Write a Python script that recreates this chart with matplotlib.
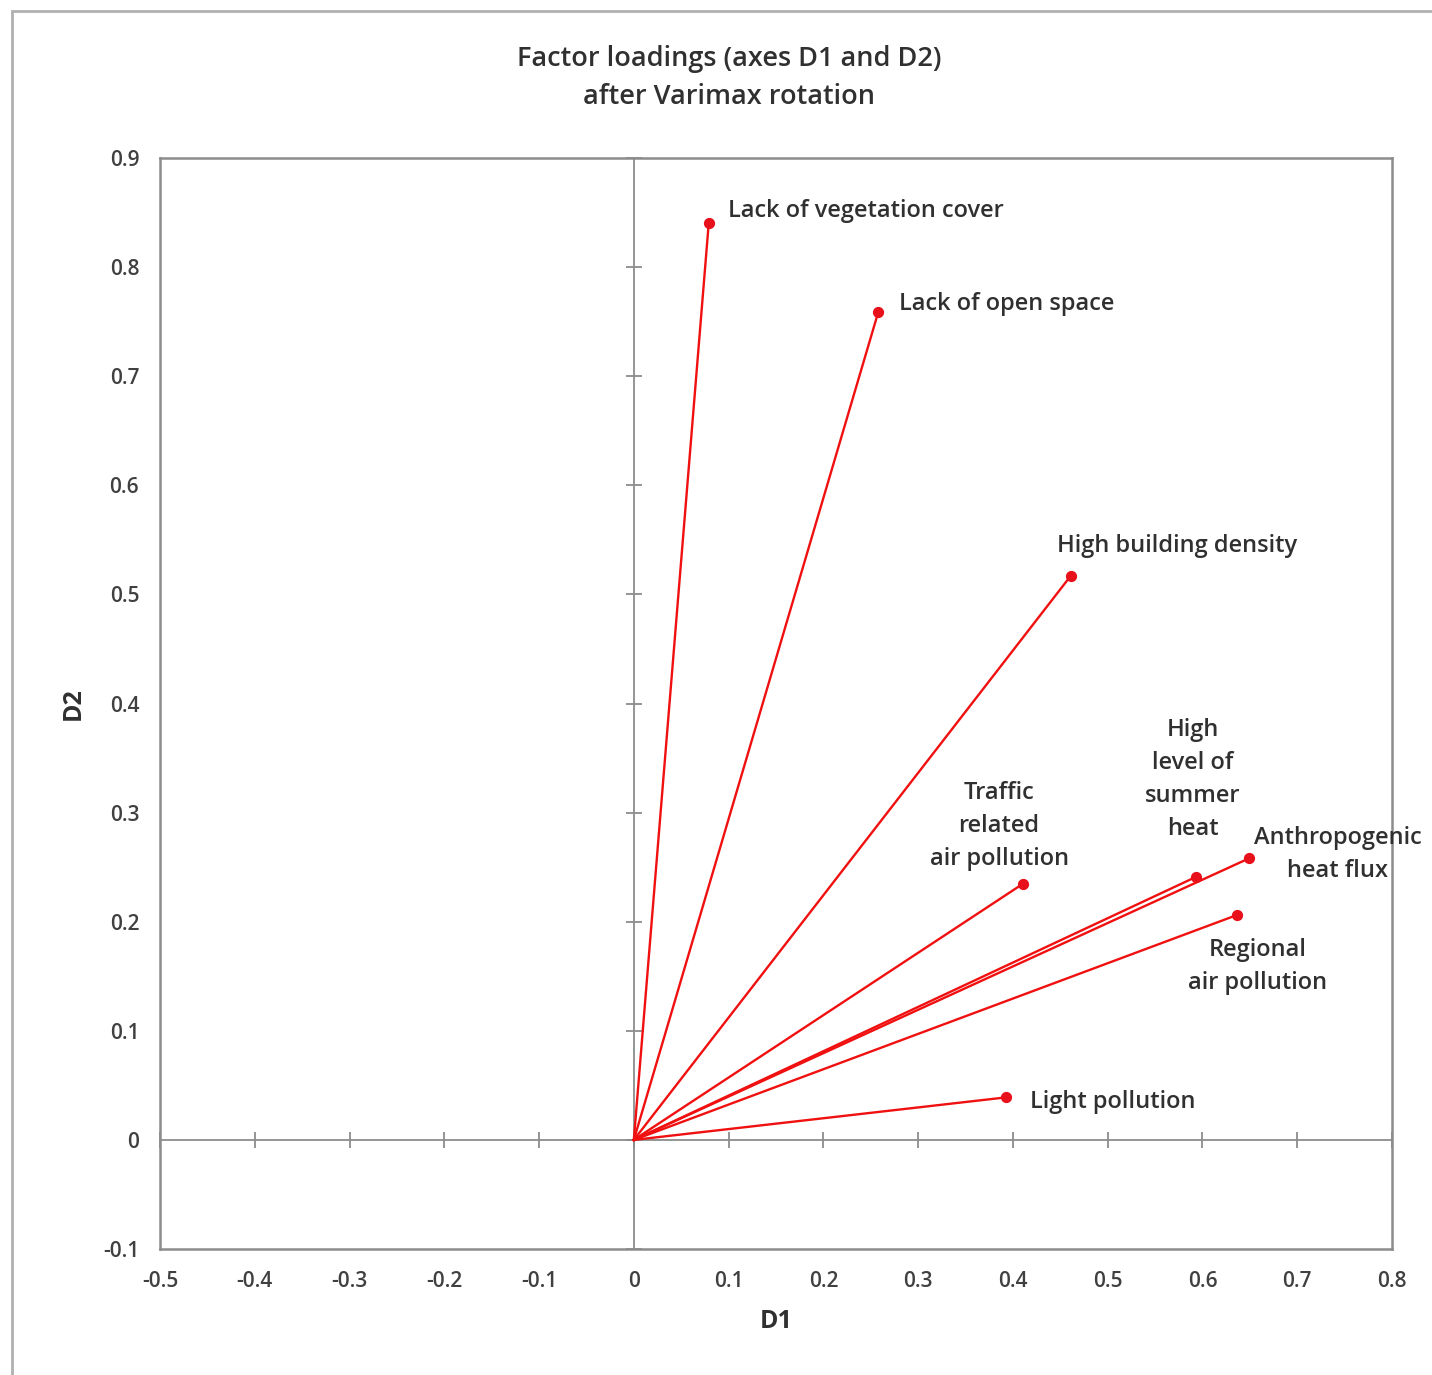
import numpy as np
import matplotlib.pyplot as plt
from matplotlib.patches import Rectangle

plt.rcParams['font.family'] = ['Open Sans', 'DejaVu Sans']

# factor loadings on the first two rotated axes
variables = ['Lack of vegetation cover', 'Lack of open space', 'High building density',
             'Traffic\nrelated\nair pollution', 'High\nlevel of\nsummer\nheat',
             'Anthropogenic\nheat flux', 'Regional\nair pollution', 'Light pollution']
d1 = [0.079, 0.258, 0.461, 0.411, 0.593, 0.649, 0.636, 0.393]
d2 = [0.840, 0.759, 0.517, 0.235, 0.241, 0.258, 0.206, 0.039]

# where each label sits and how it is aligned
label_x = [0.099, 0.280, 0.447, 0.3855, 0.590, 0.743, 0.6586, 0.418]
label_y = [0.851, 0.766, 0.544, 0.288, 0.330, 0.262, 0.159, 0.035]
label_ha = ['left', 'left', 'left', 'center', 'center', 'center', 'center', 'left']

xticks = np.round(np.arange(-0.5, 0.81, 0.1), 1) + 0.0
yticks = np.round(np.arange(-0.1, 0.91, 0.1), 1) + 0.0


def fmt(t):
    return '0' if abs(t) < 1e-9 else '%g' % t


fig = plt.figure(figsize=(14.32, 13.75), dpi=100)
# outer chart border (top and left edges visible)
fig.patches.append(Rectangle((12 / 1432, -0.01), 1.05, 1 - 11 / 1375 + 0.01,
                             transform=fig.transFigure, fill=False,
                             edgecolor='#b0b0b0', lw=2))

ax = fig.add_axes([160 / 1432, 1 - 1249 / 1375, 1232 / 1432, 1091 / 1375])
ax.set_xlim(-0.5, 0.8)
ax.set_ylim(-0.1, 0.9)

for s in ax.spines.values():
    s.set_color('#8c8c8c')
    s.set_linewidth(1.8)

ax.set_xticks(xticks)
ax.set_yticks(yticks)
ax.set_xticklabels([fmt(t) for t in xticks])
ax.set_yticklabels([fmt(t) for t in yticks])
ax.tick_params(length=0, labelsize=15, labelcolor='#404040')
ax.tick_params(axis='x', pad=16)
ax.tick_params(axis='y', pad=15)
for lab in ax.get_xticklabels() + ax.get_yticklabels():
    lab.set_fontweight('semibold')

# zero axes with crossing tick marks
ax.axhline(0, color='#8c8c8c', lw=1.3, zorder=1)
ax.axvline(0, color='#8c8c8c', lw=1.3, zorder=1)
ax.plot(xticks, np.zeros_like(xticks), ls='none', marker='|', ms=12, mew=1.3,
        color='#8c8c8c', zorder=1, clip_on=False)
ax.plot(np.zeros_like(yticks), yticks, ls='none', marker='_', ms=12, mew=1.3,
        color='#8c8c8c', zorder=1, clip_on=False)

# loading vectors from the origin
for x, y in zip(d1, d2):
    ax.plot([0, x], [0, y], color='#f01010', lw=1.7, zorder=3)
ax.scatter(d1, d2, s=50, color='#e8101a', zorder=4)

for name, lx, ly, ha in zip(variables, label_x, label_y, label_ha):
    ax.text(lx, ly, name, ha=ha, va='center', fontsize=17, fontweight='semibold',
            color='#303030', linespacing=1.5, zorder=5)

ax.set_xlabel('D1', fontsize=18, fontweight='bold', color='#303030', labelpad=12)
ax.set_ylabel('D2', fontsize=18, fontweight='bold', color='#303030', labelpad=12)

fig.text(729 / 1432, 1 - 78 / 1375, 'Factor loadings (axes D1 and D2)\nafter Varimax rotation',
         ha='center', va='center', fontsize=19.5, fontweight='semibold', color='#303030',
         linespacing=1.5)

fig.savefig('out.png', dpi=100)
